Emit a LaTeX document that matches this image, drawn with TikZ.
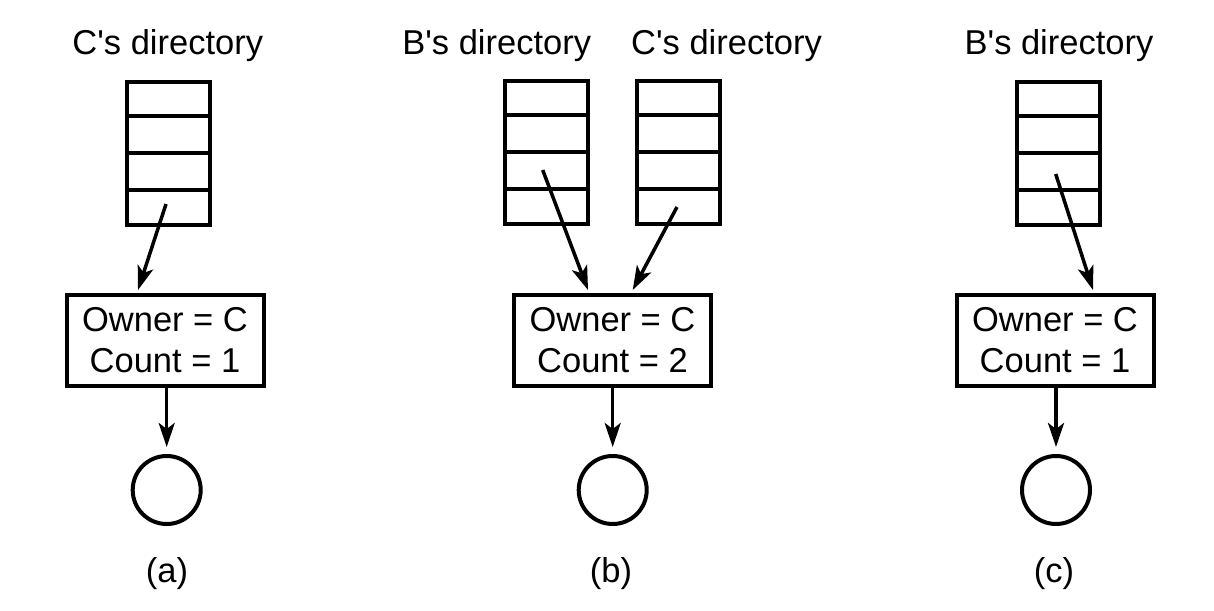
\documentclass[tikz,border=0pt]{standalone}
\usepackage{fontspec}
\setmainfont{Liberation Sans}
\usetikzlibrary{arrows.meta,calc}
\begin{document}
\begin{tikzpicture}[x=1pt,y=-1pt,
  txt/.style={font=\fontsize{34.5}{41}\selectfont, inner sep=0pt, anchor=base},
  dirbox/.style={draw, line width=4pt, minimum width=83pt, minimum height=143pt, inner sep=0pt},
  cntbox/.style={draw, line width=4pt, minimum width=197pt, minimum height=91pt, inner sep=0pt, align=center, font=\fontsize{34.5}{41}\selectfont},
  obj/.style={draw, circle, line width=4pt, minimum size=68pt, inner sep=0pt},
  arr/.style={line width=3.5pt, -{Stealth[length=24pt, width=16pt, inset=6pt]}},
  darr/.style={arr, shorten >=7pt}]
\useasboundingbox (0,0) rectangle (1214,610);
\fill[white] (0,0) rectangle (1214,610);
\newcommand{\dirrows}[1]{%
  \foreach \f in {0.25,0.5,0.75}{
    \draw[line width=4pt] ($(#1.north west)!\f!(#1.south west)$) -- ($(#1.north east)!\f!(#1.south east)$);}}
% (a)
\node[txt] (la) at (167.8,55) {C\textquotesingle s directory};
\node[dirbox] (dA) at (168.7,153) {};
\dirrows{dA}
\node[cntbox] (bA) at (165,340) {Owner = C\\Count = 1};
\node[obj] (cA) at (166.7,490) {};
\node[txt] (capA) at (167,582) {(a)};
\coordinate (sA) at (166,204);
\coordinate (eA) at (138,290);
\draw[arr] (sA) -- (eA);
\draw[darr] (bA.south -| cA.north) -- (cA.north);
% (b)
\node[txt] (lb1) at (496.7,55) {B\textquotesingle s directory};
\node[txt] (lb2) at (726.5,55) {C\textquotesingle s directory};
\node[dirbox] (dB) at (546,152) {};
\dirrows{dB}
\node[dirbox] (dC) at (678.5,152) {};
\dirrows{dC}
\node[cntbox] (bB) at (612.5,340.5) {Owner = C\\Count = 2};
\node[obj] (cB) at (612.7,490) {};
\node[txt] (capB) at (611,582) {(b)};
\coordinate (sB1) at (542.7,170);
\coordinate (eB1) at (588,290);
\coordinate (sB2) at (677,207);
\coordinate (eB2) at (632.7,290);
\draw[arr] (sB1) -- (eB1);
\draw[arr] (sB2) -- (eB2);
\draw[darr] (bB.south -| cB.north) -- (cB.north);
% (c)
\node[txt] (lc) at (1059,55) {B\textquotesingle s directory};
\node[dirbox] (dD) at (1058.7,153) {};
\dirrows{dD}
\node[cntbox] (bC) at (1055,340.5) {Owner = C\\Count = 1};
\node[obj] (cC) at (1056,490) {};
\node[txt] (capC) at (1054,582) {(c)};
\coordinate (sC) at (1055.7,174);
\coordinate (eC) at (1093,290);
\draw[arr] (sC) -- (eC);
\draw[darr] (bC.south -| cC.north) -- (cC.north);
\end{tikzpicture}
\end{document}
